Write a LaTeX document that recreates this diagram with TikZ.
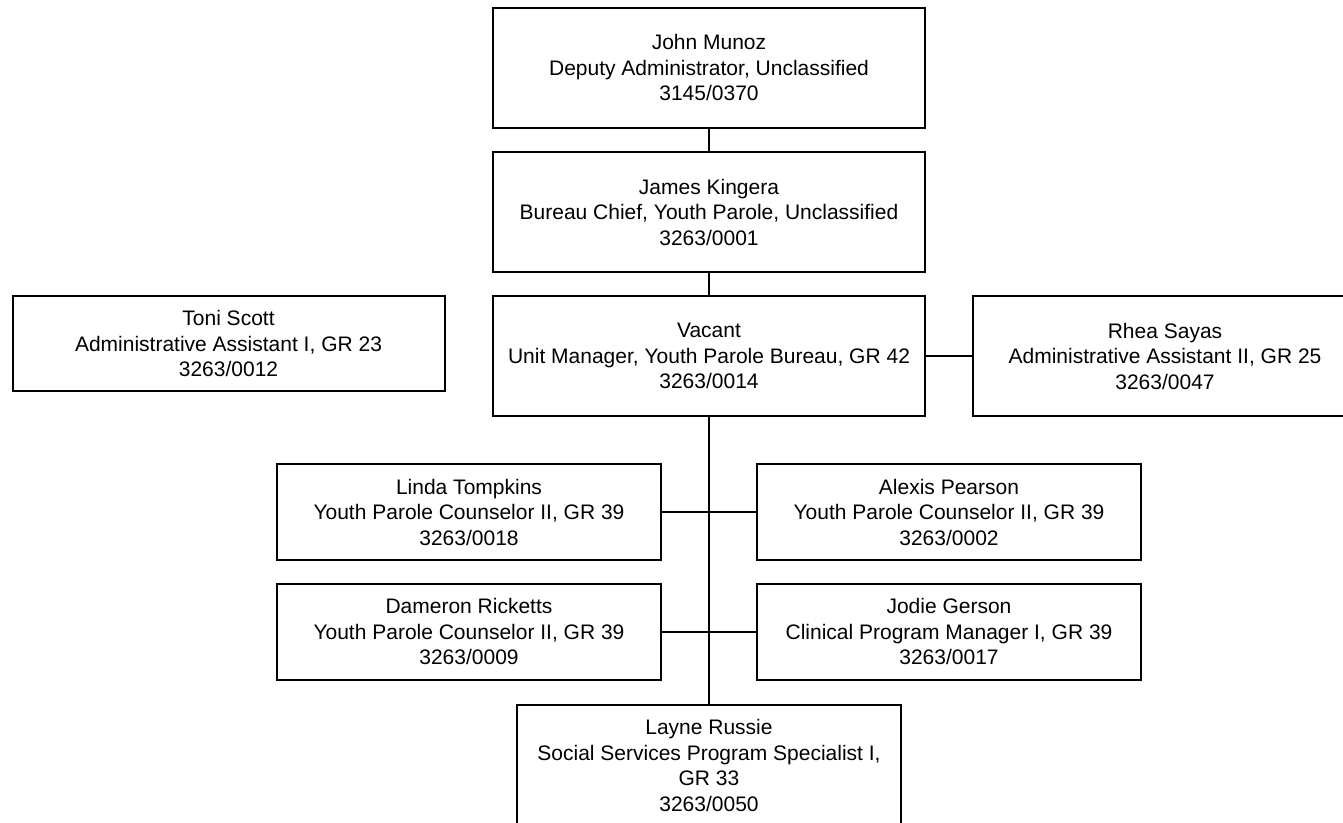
\documentclass[tikz,border=0pt]{standalone}
\usepackage{fontspec}
\setmainfont{Liberation Sans}
\begin{document}
\begin{tikzpicture}[x=1pt, y=-1pt,
    box/.style={draw, line width=2pt, rectangle, align=center, inner sep=0pt,
      font=\fontsize{21}{25.5}\selectfont},
    wide/.style={minimum width=432pt, minimum height=120pt},
    narrow/.style={minimum width=384pt, minimum height=96pt}]
  \fill[white] (0, 0) rectangle (1343, 822);
  \clip (0, 0) rectangle (1343, 822);
  \node[box, wide] (munoz) at (709, 67.5) {John Munoz\\Deputy Administrator, Unclassified\\3145/0370};
  \node[box, wide] (kingera) at (709, 212) {James Kingera\\Bureau Chief, Youth Parole, Unclassified\\3263/0001};
  \node[box, wide] (vacant) at (709, 356) {Vacant\\Unit Manager, Youth Parole Bureau, GR 42\\3263/0014};
  \node[box, wide, minimum height=95pt] (scott) at (228.5, 343.5) {Toni Scott\\Administrative Assistant I, GR 23\\3263/0012};
  \node[box, narrow, minimum height=120pt] (sayas) at (1165, 356) {Rhea Sayas\\Administrative Assistant II, GR 25\\3263/0047};
  \node[box, narrow] (tompkins) at (469, 512) {Linda Tompkins\\Youth Parole Counselor II, GR 39\\3263/0018};
  \node[box, narrow] (pearson) at (949, 512) {Alexis Pearson\\Youth Parole Counselor II, GR 39\\3263/0002};
  \node[box, narrow] (ricketts) at (469, 631.5) {Dameron Ricketts\\Youth Parole Counselor II, GR 39\\3263/0009};
  \node[box, narrow] (gerson) at (949, 631.5) {Jodie Gerson\\Clinical Program Manager I, GR 39\\3263/0017};
  \node[box, narrow, minimum height=121pt] (russie) at (709, 765.5) {Layne Russie\\Social Services Program Specialist I,\\GR 33\\3263/0050};
  \draw[line width=2pt] (munoz) -- (kingera);
  \draw[line width=2pt] (kingera) -- (vacant);
  \draw[line width=2pt] (vacant) -- (sayas);
  \draw[line width=2pt] (vacant) -- (russie);
  \draw[line width=2pt] (tompkins) -- (pearson);
  \draw[line width=2pt] (ricketts) -- (gerson);
\end{tikzpicture}
\end{document}
